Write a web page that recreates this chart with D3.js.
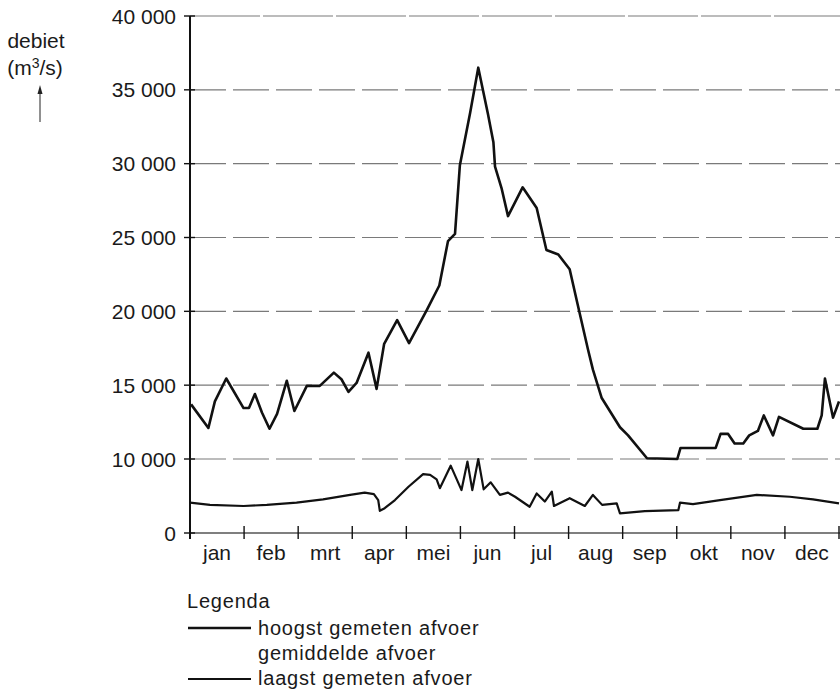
<!DOCTYPE html>
<html lang="nl">
<head>
<meta charset="UTF-8">
<title>debiet</title>
<script src="https://d3js.org/d3.v7.min.js"></script>
<style>
  body { margin: 0; background: #fff; }
  text { font-family: "Liberation Sans", Arial, sans-serif; fill: #1a1a1a; }
</style>
</head>
<body>
<svg class="chart"></svg>
<script>
const W = 840, H = 690

// months on the x axis
const months = ['jan', 'feb', 'mrt', 'apr', 'mei', 'jun', 'jul', 'aug', 'sep', 'okt', 'nov', 'dec']
const yTicks = [0, 10000, 15000, 20000, 25000, 30000, 35000, 40000]
const yTickLabels = ['0', '10 000', '15 000', '20 000', '25 000', '30 000', '35 000', '40 000']

// hoogst gemeten afvoer: [month position, m3/s]
const highT = [0.02, 0.34, 0.46, 0.67, 0.99, 1.09, 1.20, 1.33, 1.47, 1.61, 1.79, 1.93, 2.16, 2.40, 2.66, 2.80,
  2.93, 3.08, 3.30, 3.45, 3.59, 3.83, 4.05, 4.38, 4.61, 4.77, 4.90, 4.99, 5.18, 5.33, 5.51, 5.61, 5.64,
  5.76, 5.88, 6.15, 6.41, 6.59, 6.81, 7.02, 7.15, 7.36, 7.45, 7.61, 7.95, 8.10, 8.45, 9.01, 9.07, 9.72,
  9.81, 9.95, 10.07, 10.23, 10.34, 10.50, 10.61, 10.78, 10.89, 11.34, 11.60, 11.68, 11.74, 11.89, 12.0]
const highV = [13700, 12100, 13900, 15450, 13450, 13450, 14400, 13150, 12050, 13050, 15300, 13250, 14950, 14950,
  15850, 15400, 14550, 15150, 17200, 14750, 17800, 19400, 17850, 20100, 21750, 24750, 25250, 29900, 33450,
  36500, 33350, 31450, 29800, 28350, 26450, 28400, 27000, 24150, 23850, 22850, 20750, 17400, 16050, 14150,
  12150, 11600, 10050, 10000, 10750, 10750, 11700, 11700, 11050, 11050, 11600, 11900, 12950, 11600, 12850,
  12050, 12050, 12950, 15450, 12800, 13900]

// laagst gemeten afvoer
const lowT = [0, 0.37, 0.99, 1.42, 1.97, 2.46, 2.96, 3.23, 3.40, 3.48, 3.51, 3.60, 3.79, 4.04, 4.31, 4.44, 4.56,
  4.62, 4.82, 5.02, 5.13, 5.22, 5.33, 5.43, 5.56, 5.73, 5.88, 6.01, 6.28, 6.41, 6.56, 6.69, 6.73, 7.02, 7.30,
  7.45, 7.62, 7.89, 7.95, 8.41, 9.03, 9.06, 9.30, 9.80, 10.48, 11.09, 11.52, 12.0]
const lowV = [4100, 3800, 3650, 3800, 4100, 4550, 5150, 5450, 5250, 4450, 3000, 3350, 4450, 6250, 7950, 7850,
  7250, 6050, 9100, 5800, 9650, 5800, 10000, 5900, 6850, 5150, 5450, 4900, 3550, 5350, 4250, 5600, 3650,
  4700, 3650, 5150, 3800, 4000, 2650, 2950, 3100, 4100, 3900, 4450, 5150, 4900, 4550, 4000]

const svg = d3.select('.chart').attr('width', W).attr('height', H)

const x = d3.scaleLinear().domain([0, 12]).range([190, 839])
// the part below 10 000 is squeezed into one step
const y = d3.scaleLinear().domain([0, 10000, 40000]).range([533, 459, 16])

// grid lines
svg.append('g').selectAll('line')
  .data(yTicks.filter(d => d > 0))
  .join('line')
  .attr('x1', x(0)).attr('x2', W)
  .attr('y1', d => y(d)).attr('y2', d => y(d))
  .attr('stroke', '#7a7a7a').attr('stroke-width', 1.2)
  .attr('stroke-dasharray', d => d === 40000 ? '70,3' : '36,7')

// x axis line at 0
svg.append('line')
  .attr('x1', x(0)).attr('x2', W).attr('y1', y(0)).attr('y2', y(0))
  .attr('stroke', '#555').attr('stroke-width', 1.3)

// y axis
svg.append('line')
  .attr('x1', x(0)).attr('x2', x(0)).attr('y1', y(40000)).attr('y2', y(0) + 6)
  .attr('stroke', '#111').attr('stroke-width', 2)

const yt = svg.append('g').selectAll('g').data(yTicks).join('g')
  .attr('transform', d => `translate(0,${y(d)})`)
yt.append('line').attr('x1', x(0) - 6).attr('x2', x(0) + 5).attr('stroke', '#111').attr('stroke-width', 1.4)
yt.append('text')
  .attr('x', 176).attr('dy', '0.36em').attr('text-anchor', 'end')
  .style('font-size', '21px')
  .text((d, i) => yTickLabels[i])

// month ticks + labels
svg.append('g').selectAll('line')
  .data(d3.range(0, 13))
  .join('line')
  .attr('x1', d => x(d)).attr('x2', d => x(d))
  .attr('y1', y(0) - 7).attr('y2', y(0) + 6)
  .attr('stroke', '#111').attr('stroke-width', 1.4)

svg.append('g').selectAll('text')
  .data(months)
  .join('text')
  .attr('x', (d, i) => x(i + 0.5)).attr('y', 560)
  .attr('text-anchor', 'middle')
  .style('font-size', '21px')
  .text(d => d)

// y axis title
svg.append('text').attr('x', 36).attr('y', 48).attr('text-anchor', 'middle')
  .style('font-size', '21px').text('debiet')
const unit = svg.append('text').attr('x', 35).attr('y', 75).attr('text-anchor', 'middle')
  .style('font-size', '21px')
unit.append('tspan').text('(m')
unit.append('tspan').attr('dy', -7).style('font-size', '14px').text('3')
unit.append('tspan').attr('dy', 7).text('/s)')
svg.append('line').attr('x1', 40).attr('x2', 40).attr('y1', 122).attr('y2', 90)
  .attr('stroke', '#222').attr('stroke-width', 1)
svg.append('path').attr('d', 'M37.5,94 L40,85 L42.5,94 Z').attr('fill', '#222')

// data lines
const line = d3.line().x(d => x(d[0])).y(d => y(d[1]))

svg.append('path')
  .datum(highT.map((t, i) => [t, highV[i]]))
  .attr('d', line)
  .attr('fill', 'none').attr('stroke', '#111').attr('stroke-width', 2.6)
  .attr('stroke-linejoin', 'round')

svg.append('path')
  .datum(lowT.map((t, i) => [t, lowV[i]]))
  .attr('d', line)
  .attr('fill', 'none').attr('stroke', '#111').attr('stroke-width', 2.2)
  .attr('stroke-linejoin', 'round')

// legend
const lg = svg.append('g').style('font-size', '20px').style('letter-spacing', '0.8px')
lg.append('text').attr('x', 187).attr('y', 608).text('Legenda')
lg.append('line').attr('x1', 188).attr('x2', 251).attr('y1', 628).attr('y2', 628)
  .attr('stroke', '#111').attr('stroke-width', 2.6)
lg.append('text').attr('x', 258).attr('y', 635).text('hoogst gemeten afvoer')
lg.append('text').attr('x', 258).attr('y', 660).text('gemiddelde afvoer')
lg.append('line').attr('x1', 188).attr('x2', 251).attr('y1', 679).attr('y2', 679)
  .attr('stroke', '#111').attr('stroke-width', 1.8)
lg.append('text').attr('x', 258).attr('y', 685).text('laagst gemeten afvoer')
</script>
</body>
</html>
